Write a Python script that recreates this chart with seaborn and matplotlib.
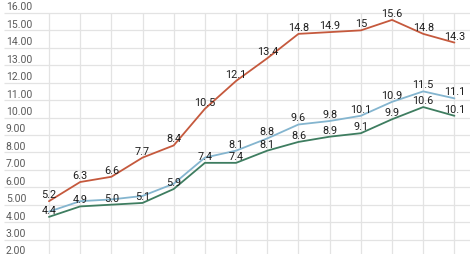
import matplotlib
matplotlib.use("Agg")
import matplotlib.pyplot as plt
import seaborn as sns
import pandas as pd
import numpy as np

# ---- data ----
positions = list(range(14))
red_values = [5.2, 6.3, 6.6, 7.7, 8.4, 10.5, 12.1, 13.4, 14.8, 14.9, 15.0, 15.6, 14.8, 14.3]
red_labels = ["5.2", "6.3", "6.6", "7.7", "8.4", "10.5", "12.1", "13.4", "14.8", "14.9", "15", "15.6", "14.8", "14.3"]
blue_values = [4.6, 5.2, 5.3, 5.5, 6.2, 7.7, 8.1, 8.8, 9.6, 9.8, 10.1, 10.9, 11.5, 11.1]
blue_labels = [None, None, None, None, None, None, "8.1", "8.8", "9.6", "9.8", "10.1", "10.9", "11.5", "11.1"]
green_values = [4.3, 4.9, 5.0, 5.1, 5.9, 7.4, 7.4, 8.1, 8.6, 8.9, 9.1, 9.9, 10.6, 10.1]
green_labels = ["4.4", "4.9", "5.0", "5.1", "5.9", "7.4", "7.4", "8.1", "8.6", "8.9", "9.1", "9.9", "10.6", "10.1"]
y_ticks = [2, 3, 4, 5, 6, 7, 8, 9, 10, 11, 12, 13, 14, 15, 16]

series_names = ["red", "blue", "green"]
colors = {"red": "#c5593d", "blue": "#84b5cf", "green": "#3e7d60"}

df = pd.concat([
    pd.DataFrame({"x": positions, "y": red_values, "s": "red"}),
    pd.DataFrame({"x": positions, "y": blue_values, "s": "blue"}),
    pd.DataFrame({"x": positions, "y": green_values, "s": "green"}),
])

sns.set_theme(style="white")
plt.rcParams["font.family"] = ["Roboto", "DejaVu Sans"]

fig = plt.figure(figsize=(4.70, 2.55), dpi=100)
ax = fig.add_axes([0, 0, 1, 1])

ymin, ymax = 2.17, 16.80
xmin, xmax = -1.57, 13.5
ax.set_xlim(xmin, xmax)
ax.set_ylim(ymin, ymax)

# grid
for yt in y_ticks:
    ax.hlines(yt, -1.45, xmax, color="#e3e3e3", lw=0.9, zorder=0)
ax.vlines(positions, ymin, 16, color="#e3e3e3", lw=0.9, zorder=0)

sns.lineplot(data=df, x="x", y="y", hue="s", palette=colors, hue_order=series_names,
             legend=False, ax=ax, linewidth=1.3, zorder=3)

# y tick labels drawn inside
for yt in y_ticks:
    ax.annotate(f"{yt:.2f}", (-1.45, yt), xytext=(2, 1.5), textcoords="offset pixels",
                ha="left", va="bottom", fontsize=7.5, color="#5a5a5a",
                annotation_clip=False)

# data labels
for vals, labs in [(red_values, red_labels), (blue_values, blue_labels), (green_values, green_labels)]:
    for x, v, l in zip(positions, vals, labs):
        if l is None:
            continue
        ax.annotate(l, (x, v), xytext=(0, 2), textcoords="offset pixels",
                    ha="center", va="bottom", fontsize=7.8, color="#1e1e1e", zorder=5)

ax.set_axis_off()
fig.savefig("out.png", dpi=100)
